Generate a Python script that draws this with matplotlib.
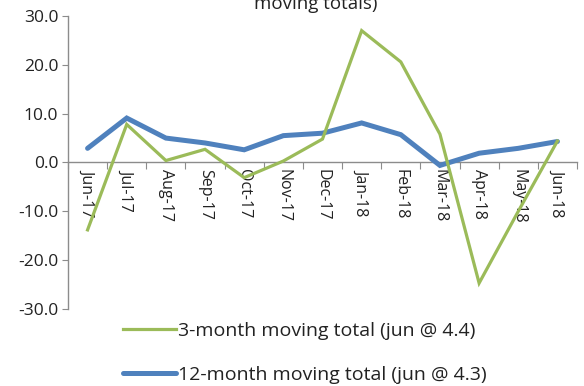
import matplotlib
matplotlib.use("Agg")
import matplotlib.pyplot as plt
import numpy as np

months = ["Jun-17", "Jul-17", "Aug-17", "Sep-17", "Oct-17", "Nov-17", "Dec-17",
          "Jan-18", "Feb-18", "Mar-18", "Apr-18", "May-18", "Jun-18"]
three_month = [-13.8, 7.8, 0.4, 2.7, -3.1, 0.3, 4.8, 27.0, 20.6, 5.8, -24.7, -10.0, 4.4]
twelve_month = [2.9, 9.1, 5.0, 4.0, 2.6, 5.5, 6.0, 8.1, 5.7, -0.6, 1.9, 2.9, 4.3]
label_3m = "3-month moving total (jun @ 4.4)"
label_12m = "12-month moving total (jun @ 4.3)"
title_tail = "moving totals)"
y_ticks = [30, 20, 10, 0, -10, -20, -30]

GREEN = "#9BBB59"
BLUE = "#4F81BD"
AXIS_GREY = "#8C8C8C"
TEXT = "#222222"

plt.rcParams["font.family"] = ["Open Sans", "DejaVu Sans"]

W, H = 584, 386
fig = plt.figure(figsize=(W / 100, H / 100), dpi=100)
ax = fig.add_axes([68 / W, (H - 309) / H, (577 - 68) / W, (309 - 16) / H])

x = np.arange(len(months))
l12, = ax.plot(x, twelve_month, color=BLUE, lw=3.6, solid_joinstyle="miter",
               solid_capstyle="round", label=label_12m, zorder=3)
l3, = ax.plot(x, three_month, color=GREEN, lw=2.3, solid_joinstyle="miter",
              label=label_3m, zorder=4)

ax.set_xlim(-0.5, len(months) - 0.5)
ax.set_ylim(-30, 30)

for s in ["top", "right"]:
    ax.spines[s].set_visible(False)
ax.spines["left"].set_color(AXIS_GREY)
ax.spines["bottom"].set_color(AXIS_GREY)
ax.spines["bottom"].set_position(("data", 0))
ax.spines["left"].set_linewidth(1.0)
ax.spines["bottom"].set_linewidth(1.0)

ax.set_yticks(y_ticks)
ax.set_yticklabels([f"{v:.1f}" for v in y_ticks], fontsize=12.5, color=TEXT)
ax.tick_params(axis="y", direction="out", length=4, color=AXIS_GREY, pad=3)

# category boundaries as tick marks, labels centred between them
ax.set_xticks(np.arange(-0.5, len(months) + 0.5, 1.0))
ax.set_xticklabels([])
ax.tick_params(axis="x", direction="out", length=5, color=AXIS_GREY)
for xi, m in zip(x, months):
    ax.annotate(m, xy=(xi, 0), xytext=(0, -5), textcoords="offset points",
                rotation=-90, ha="center", va="top", fontsize=11.5, color=TEXT,
                annotation_clip=False)

# second line of the chart title; the first line sits above the canvas
fig.text(316 / W, (H - 9) / H, title_tail, ha="center", va="baseline",
         fontsize=13.5, color=TEXT)

fig.legend(handles=[l3, l12], loc="upper left",
           bbox_to_anchor=(123 / W, (H - 322) / H), frameon=False,
           borderpad=0, borderaxespad=0,
           fontsize=14, handlelength=2.7, handletextpad=0.15,
           labelspacing=1.35, labelcolor=TEXT)

fig.savefig("out.png", dpi=100)
